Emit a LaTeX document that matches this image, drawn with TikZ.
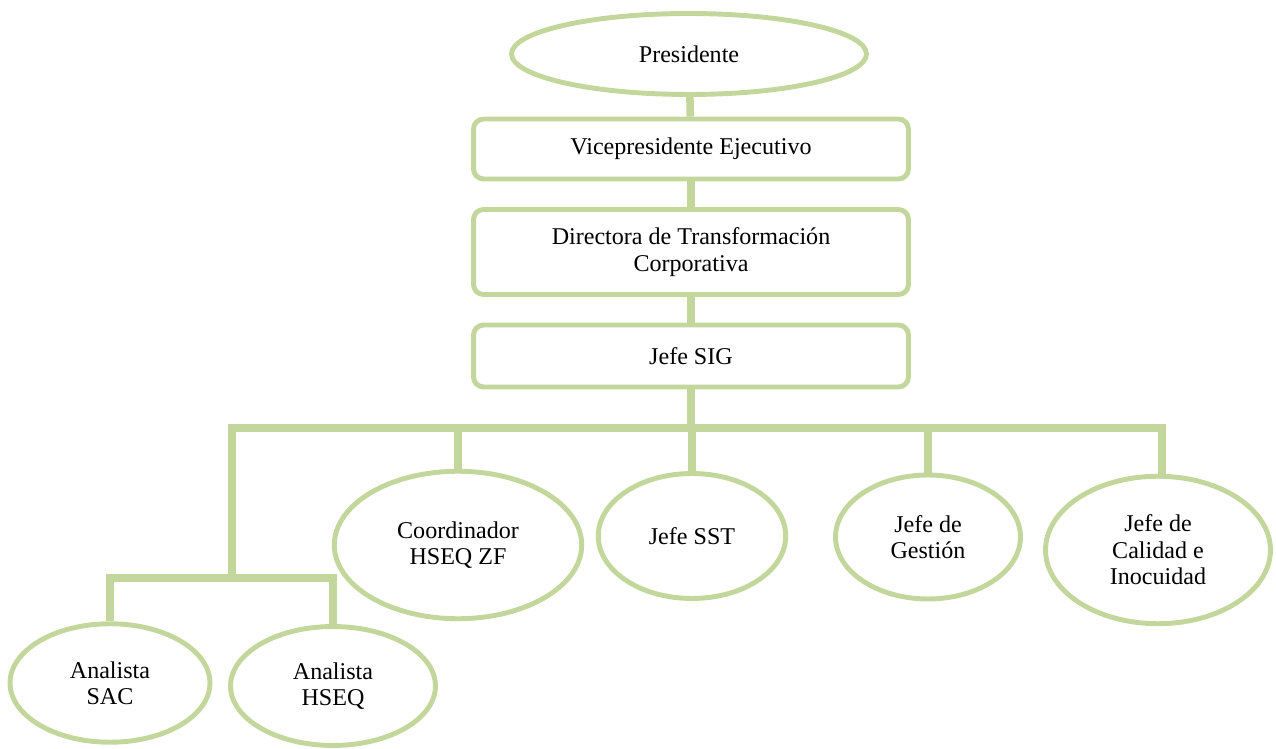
\documentclass[tikz,border=0pt]{standalone}
\usepackage{fontspec}
\setmainfont{Liberation Serif}
\usetikzlibrary{shapes.geometric}
\definecolor{leaf}{HTML}{C3D69B}

\begin{document}
\begin{tikzpicture}[x=0.02cm, y=-0.02cm,
    conn/.style={draw=leaf, line width=4.3pt},
    post/.style={draw=leaf, line width=2.8pt, fill=white, rounded corners=0.2cm, align=center, font=\fontsize{13.7}{15}\selectfont},
    oval/.style={draw=leaf, line width=2.8pt, fill=white, ellipse, inner sep=0pt, align=center, font=\fontsize{13.7}{15}\selectfont}]
\useasboundingbox (0,0) rectangle (1276,749);
\begin{scope}
    \node[oval, minimum width=7.1cm, minimum height=1.62cm] (pres) at (689,54) {Presidente};
    \node[post, minimum width=8.7cm, minimum height=1.2cm] (vice) at (691,149) {Vicepresidente Ejecutivo};
    \node[post, minimum width=8.7cm, minimum height=1.7cm] (dir) at (691,252) {Directora de Transformación\\Corporativa};
    \node[post, minimum width=8.7cm, minimum height=1.24cm] (sig) at (691,356) {Jefe SIG};
    \node[oval, minimum width=4.95cm, minimum height=2.95cm] (coord) at (458,545) {Coordinador\\HSEQ ZF};
    \node[oval, minimum width=3.75cm, minimum height=2.5cm] (sst) at (692,536) {Jefe SST};
    \node[oval, minimum width=3.7cm, minimum height=2.48cm] (gest) at (928,537) {Jefe de\\Gestión};
    \node[oval, minimum width=4.5cm, minimum height=2.95cm] (cal) at (1158,550) {Jefe de\\Calidad e\\Inocuidad};
    \node[oval, minimum width=4.0cm, minimum height=2.37cm] (sac) at (110,683) {Analista\\SAC};
    \node[oval, minimum width=4.1cm, minimum height=2.38cm] (hseq) at (333,686) {Analista\\HSEQ};
\end{scope}
\coordinate (busL) at (232,428);
\coordinate (busR) at (1162,428);
\coordinate (subbus) at (232,578);
\begin{scope}[every path/.style={conn}]
    \draw (pres) -- (vice);
    \draw (vice) -- (dir);
    \draw (dir) -- (sig);
    \draw (sig) -- (sig |- busL);
    \draw[line cap=rect] (busL) -- (busR);
    \draw (coord |- busL) -- (coord.north);
    \draw (sst |- busL) -- (sst.north);
    \draw (gest |- busL) -- (gest.north);
    \draw (busR) -- (busR |- cal.north);
    \draw (busL) -- (subbus);
    \draw[line cap=rect] (sac |- subbus) -- (hseq |- subbus);
    \draw (sac |- subbus) -- (sac.north);
    \draw (hseq |- subbus) -- (hseq.north);
\end{scope}
\end{tikzpicture}
\end{document}
